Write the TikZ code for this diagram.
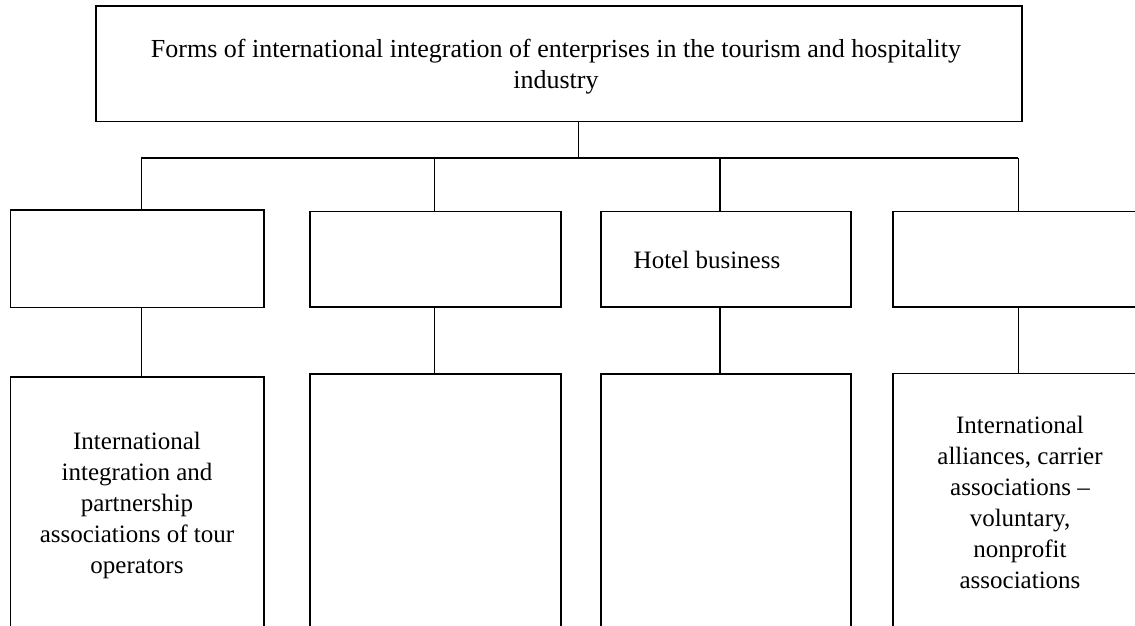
\documentclass[tikz,border=0pt]{standalone}
\usepackage{fontspec}
\setmainfont{Liberation Serif}
\begin{document}
\begin{tikzpicture}[x=1pt,y=-1pt,
  box/.style={draw, line width=1.1pt, rectangle, inner sep=0pt},
  wire/.style={draw, line width=1.6pt},
  txt/.style={align=center, font=\fontsize{25}{31}\selectfont, inner sep=0pt}]
% page frame; boxes run off the lower and right edges
\clip (0,0) rectangle (1135,625);
\fill[white] (0,0) rectangle (1135,625);

% title box
\node[box, minimum width=926pt, minimum height=115.7pt] (top) at (559,63.85) {};
\node[txt, font=\fontsize{26}{31}\selectfont] (toptext) at (556,67) {Forms of international integration of enterprises in the tourism and hospitality\\industry};

% first row of boxes
\node[box, minimum width=253.5pt, minimum height=97.5pt] (b1) at (137.25,258.75) {};
\node[box, minimum width=251pt, minimum height=95.5pt] (b2) at (435.5,259.25) {};
\node[box, minimum width=250pt, minimum height=95.5pt] (b3) at (726,259.25) {};
\node[box, minimum width=254pt, minimum height=95.5pt] (b4) at (1020,259.25) {};
\node[txt] (b3text) at (707,260) {Hotel business};

% second row of boxes
\node[box, minimum width=253.5pt, minimum height=283pt] (c1) at (137.25,518.5) {};
\node[box, minimum width=251pt, minimum height=286pt] (c2) at (435.5,517) {};
\node[box, minimum width=250pt, minimum height=286pt] (c3) at (726,517) {};
\node[box, minimum width=254pt, minimum height=286.5pt] (c4) at (1020,516.75) {};
\node[txt] (c1text) at (137,505) {International\\integration and\\partnership\\associations of tour\\operators};
\node[txt] (c4text) at (1020,502) {International\\alliances, carrier\\associations –\\voluntary,\\nonprofit\\associations};

% connector tree
\coordinate (hub) at (578.3,157.7);
\coordinate (k1) at (141.3,157.7);
\coordinate (k2) at (434.5,157.7);
\coordinate (k3) at (720,157.7);
\coordinate (k4) at (1018.3,157.7);
\draw[wire] (top.south -| hub) -- (hub);
\draw[wire] (k1) -- (k4);
\foreach \i in {1,2,3,4}{
  \draw[wire] (k\i) -- (k\i |- b\i.north);
  \draw[wire] (b\i.south -| k\i) -- (c\i.north -| k\i);
}
\end{tikzpicture}
\end{document}
